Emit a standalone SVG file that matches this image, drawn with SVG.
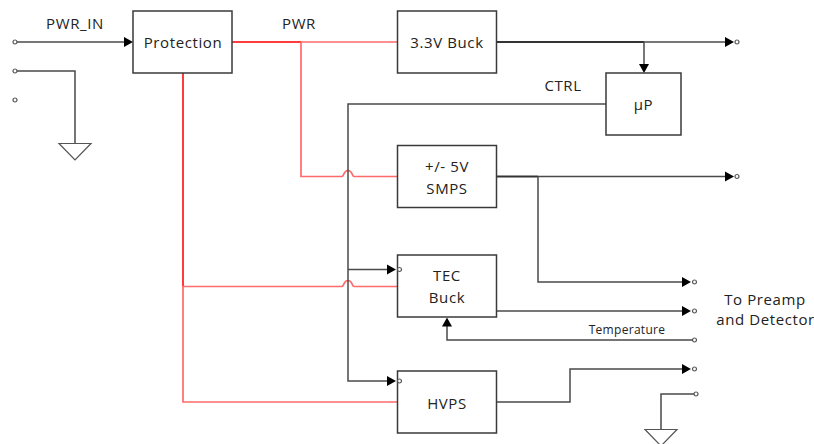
<svg xmlns="http://www.w3.org/2000/svg" width="814" height="444" viewBox="0 0 814 444">
<style>
text{font-family:"Open Sans","Noto Sans",sans-serif;font-size:15px;letter-spacing:.6px;fill:#222;text-anchor:middle}
.box{fill:#fff;stroke:#3a3a3a;stroke-width:1.5}
.w{fill:none;stroke:#4a4a4a;stroke-width:1.5}
.wd{fill:none;stroke:#333;stroke-width:2}
.r{fill:none;stroke:#ff6a6a;stroke-width:1.7}
.rd{fill:none;stroke:#ff3b3b;stroke-width:2}
.a{fill:#000;stroke:none}
.t{fill:#fff;stroke:#555;stroke-width:1.2}
.g{fill:#fff;stroke:#555;stroke-width:1.2}
</style>
<defs>
<polygon id="ar" class="a" points="0,0 -9,-5 -9,5"/>
<circle id="tm" class="t" r="2"/>
</defs>
<g id="connectors">
<path class="w" d="M15 42H125"/>
<use href="#ar" x="133" y="42"/>
<path class="w" d="M15 71H75V143"/>
<polygon class="g" points="59,143.500 91,143.500 75,160"/>
<path class="rd" d="M232 42H301"/>
<path class="r" d="M301 42H397"/>
<path class="r" d="M301 42V176.500H342C344 176.500 343.500 170.500 348 170.500C352.500 170.500 352 176.500 354 176.500H397"/>
<path class="rd" d="M183 73V286"/>
<path class="r" d="M183 286.500H342C344 286.500 343.500 280.500 348 280.500C352.500 280.500 352 286.500 354 286.500H397"/>
<path class="r" d="M183 286V402H397"/>
<path class="wd" d="M497 42H644"/>
<path class="w" d="M644 42H727"/>
<use href="#ar" x="734" y="42"/>
<path class="w" d="M644 42V65"/>
<use href="#ar" transform="translate(644 73) rotate(90)"/>
<path class="w" d="M606 104H348V381H388"/>
<use href="#ar" x="396" y="381"/>
<path class="w" d="M348 269.500H388"/>
<use href="#ar" x="396" y="269.500"/>
<path class="wd" d="M497 176.500H538"/>
<path class="w" d="M538 176.500H727"/>
<use href="#ar" x="734" y="176.500"/>
<path class="w" d="M538 176.500V282H684"/>
<use href="#ar" x="691" y="282"/>
<path class="w" d="M497 311H684"/>
<use href="#ar" x="691" y="311"/>
<path class="w" d="M694 340H447V326"/>
<use href="#ar" transform="translate(447 317.500) rotate(-90)"/>
<path class="w" d="M497 402H570V369H684"/>
<use href="#ar" x="691" y="369"/>
<path class="w" d="M696 394H661V429"/>
<polygon class="g" points="645,429.500 677,429.500 661,446"/>
<use href="#tm" x="15" y="42"/>
<use href="#tm" x="15" y="71"/>
<use href="#tm" x="15" y="100"/>
<use href="#tm" x="737" y="42"/>
<use href="#tm" x="737" y="176.500"/>
<use href="#tm" x="694.500" y="282"/>
<use href="#tm" x="694.500" y="311"/>
<use href="#tm" x="694.500" y="340"/>
<use href="#tm" x="694.500" y="369"/>
<use href="#tm" x="696" y="394"/>
</g>
<g id="protection"><rect class="box" x="133" y="11" width="99" height="62"/><text x="183" y="47.500">Protection</text></g>
<g id="buck33"><rect class="box" x="397.500" y="11" width="99" height="62"/><text x="447" y="47.500">3.3V Buck</text></g>
<g id="up"><rect class="box" x="606" y="73" width="75" height="62"/><text x="643.500" y="109.500">µP</text></g>
<g id="smps"><rect class="box" x="397.500" y="145.500" width="99" height="62"/><text x="447" y="171.500">+/- 5V</text><text x="447" y="193.500">SMPS</text></g>
<g id="tec"><rect class="box" x="397.500" y="255" width="99" height="62"/><use href="#tm" x="399.500" y="269.500"/><text x="447" y="280.500">TEC</text><text x="447" y="302.500">Buck</text></g>
<g id="hvps"><rect class="box" x="397.500" y="371" width="99" height="62"/><use href="#tm" x="399.500" y="381"/><text x="447" y="408.500">HVPS</text></g>
<g id="labels">
<text x="75" y="28.500">PWR_IN</text>
<text x="299" y="28.500">PWR</text>
<text x="563" y="90.500">CTRL</text>
<text x="627" y="334" style="font-size:12px;letter-spacing:.3px">Temperature</text>
<text x="765" y="304.500">To Preamp</text>
<text x="765.500" y="324.500">and Detector</text>
</g>
</svg>
